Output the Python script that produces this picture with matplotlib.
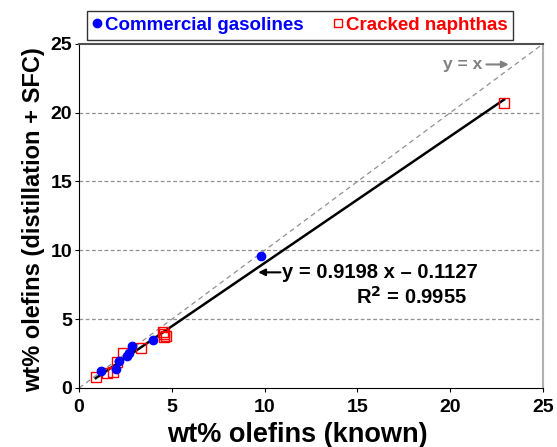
import numpy as np
import matplotlib
matplotlib.use('Agg')
import matplotlib.pyplot as plt

plt.rcParams['font.family'] = ['Liberation Sans', 'DejaVu Sans']
plt.rcParams['font.weight'] = 'bold'

# Commercial gasolines (known, measured)
gas_x = [1.17, 1.99, 2.15, 2.6, 2.71, 2.86, 4.0, 9.8]
gas_y = [1.24, 1.36, 1.99, 2.36, 2.57, 3.06, 3.45, 9.6]

# Cracked naphthas (known, measured)
nap_x = [0.92, 1.49, 1.85, 2.06, 2.35, 3.34, 4.5, 4.6, 4.6, 4.7, 22.9]
nap_y = [0.78, 1.12, 1.19, 1.92, 2.53, 2.89, 4.1, 3.9, 3.7, 3.75, 20.7]

slope = 0.9198
intercept = -0.1127
fit_x = [0.9, 22.9]

fig = plt.figure(figsize=(5.57, 4.47), dpi=100)
ax = fig.add_axes([0.142, 0.132, 0.833, 0.77])

ax.set_xlim(0, 25)
ax.set_ylim(0, 25)
ax.set_xticks(range(0, 26, 5))
ax.set_yticks(range(0, 26, 5))
for yv in [5, 10, 15, 20]:
    ax.axhline(yv, color='#909090', ls=(0, (3, 2)), lw=0.9, zorder=0)

ax.plot([0, 25], [0, 25], color='#909090', ls=(0, (4, 3)), lw=0.9, zorder=1)
fx = np.array(fit_x)
ax.plot(fx, slope * fx + intercept, color='black', lw=1.8, zorder=2)

ax.plot(nap_x, nap_y, 's', ms=7.5, mfc='none', mec='red', mew=1.0,
        label='Cracked naphthas', zorder=3)
ax.plot(gas_x, gas_y, 'o', ms=6, color='blue', label='Commercial gasolines', zorder=4)

ax.annotate('', xy=(9.5, 8.4), xytext=(11.0, 8.4),
            arrowprops=dict(arrowstyle='-|>', color='black', lw=1.5, mutation_scale=10))
ax.text(10.95, 8.4, 'y = 0.9198 x \u2013 0.1127', fontsize=14.5, fontweight='bold',
        va='center', ha='left')
ax.text(17.9, 6.6, 'R$^\\mathbf{2}$ = 0.9955', fontsize=14.5, fontweight='bold',
        va='center', ha='center')

ax.annotate('', xy=(23.3, 23.5), xytext=(21.8, 23.5),
            arrowprops=dict(arrowstyle='-|>', color='#808080', lw=1.5, mutation_scale=10))
ax.text(21.7, 23.5, 'y = x', fontsize=12.5, fontweight='bold', color='#808080',
        va='center', ha='right')

ax.spines['left'].set_color('black')
ax.spines['bottom'].set_color('black')
ax.spines['top'].set_color('#505050')
ax.spines['top'].set_linewidth(1.5)
ax.spines['right'].set_color('#b0b0b0')
ax.spines['right'].set_linewidth(1.5)
ax.tick_params(direction='out', length=3, labelsize=14, pad=2)
ax.tick_params(axis='x', pad=5)
for lab in ax.get_xticklabels() + ax.get_yticklabels():
    lab.set_fontweight('bold')

ax.set_xlabel('wt% olefins (known)', fontsize=19.5, fontweight='bold')
ax.xaxis.set_label_coords(0.47, -0.1)
ax.set_ylabel('wt% olefins (distillation + SFC)', fontsize=17, fontweight='bold')
ax.yaxis.set_label_coords(-0.073, 0.49)

h, l = ax.get_legend_handles_labels()
leg = ax.legend(h[::-1], l[::-1], loc='lower left', bbox_to_anchor=(0.017, 1.012),
                borderaxespad=0,
                ncol=2, frameon=True, fancybox=False, edgecolor='black',
                labelcolor='markeredgecolor', handlelength=0.5,
                handletextpad=0.15, columnspacing=1.6, borderpad=0.3,
                prop={'weight': 'bold', 'size': 13.5})
leg.get_frame().set_linewidth(1.0)
leg.legend_handles[0].set_markersize(6)
leg.legend_handles[1].set_markersize(6)

fig.savefig('out.png', dpi=100)
